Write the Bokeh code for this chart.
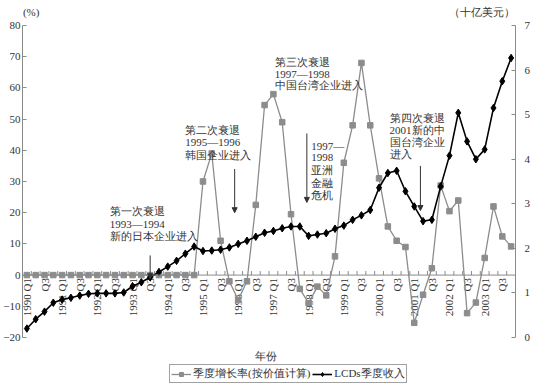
import numpy as np
from bokeh.plotting import figure
from bokeh.models import (Range1d, LinearAxis, FixedTicker, Arrow, NormalHead,
                          Legend, LegendItem, Label, Span)
from bokeh.embed import file_html
from bokeh.resources import INLINE
from bokeh.core.properties import value

# ---------------- data ----------------
YEARS = list(range(1990, 2004))
QUARTERS = [f"{y} Q{q}" for y in YEARS for q in (1, 2, 3, 4)]

# quarterly growth rate (%), left axis
growth = [0, 0, 0, 0, 0, 0, 0, 0, 0, 0,
          0, 0, 0, 0, 0, 0, 0, 0, 0, 0,
          30, 39, 11, -2, -8, -2, 22.5, 54.5, 58, 49,
          19.5, -4.4, -9, -3.7, -6.5, 6, 36, 48, 68, 48,
          31, 15.6, 11, 9, -15.3, -6.3, 2.2, 28.7, 20.5, 23.9,
          -12.2, -8.8, 5.5, 22, 12.4, 9.2]

# LCDs quarterly revenue (billion USD), right axis
revenue = [0.20, 0.41, 0.58, 0.78, 0.85, 0.89, 0.94, 0.98, 0.99, 0.99,
           0.99, 1.01, 1.15, 1.24, 1.35, 1.47, 1.59, 1.72, 1.88, 2.04,
           1.94, 1.95, 1.97, 2.02, 2.10, 2.17, 2.26, 2.35, 2.39, 2.45,
           2.49, 2.49, 2.28, 2.31, 2.34, 2.44, 2.51, 2.64, 2.74, 2.86,
           3.36, 3.69, 3.74, 3.28, 2.94, 2.61, 2.64, 3.39, 4.08, 5.04,
           4.40, 4.00, 4.22, 5.15, 5.75, 6.27]

left_ticks = [-20, -10, 0, 10, 20, 30, 40, 50, 60, 70, 80]
right_ticks = [0, 1, 2, 3, 4, 5, 6, 7]

x = list(range(len(QUARTERS)))
label_idx = [i for i, q in enumerate(QUARTERS) if q.endswith("Q1") or q.endswith("Q3")]
label_txt = [QUARTERS[i] if QUARTERS[i].endswith("Q1") else "Q3" for i in label_idx]
bounds = [i - 0.5 for i in range(len(x) + 1)]

FONT = "Liberation Serif"
AX = "#8a8a8a"
TXT = "#333333"

# frame spans the full height; axes are bounded to the value ranges
Y_TOP, Y_BOT = 88.01, -36.67
p = figure(width=550, height=389, x_range=Range1d(-0.5, len(x) - 0.5),
           y_range=Range1d(Y_BOT, Y_TOP), output_backend="svg", toolbar_location=None,
           x_axis_location=None, y_axis_location=None,
           min_border_top=0, min_border_right=35, min_border_left=17, min_border_bottom=0)
p.extra_y_ranges = {"rev": Range1d((Y_BOT + 20) * 0.07, (Y_TOP + 20) * 0.07)}
p.outline_line_color = None
p.xgrid.visible = False
p.ygrid.visible = False

def style_y(ax):
    ax.axis_line_color = AX
    ax.major_tick_line_color = AX
    ax.major_tick_in = 4
    ax.major_tick_out = 0
    ax.minor_tick_line_color = None
    ax.major_label_text_font = FONT
    ax.major_label_text_font_size = "11px"
    ax.major_label_text_color = TXT
    ax.major_label_standoff = 2

yl = LinearAxis(ticker=FixedTicker(ticks=left_ticks), bounds=(-20, 80))
style_y(yl)
p.add_layout(yl, "left")

yr = LinearAxis(y_range_name="rev", ticker=FixedTicker(ticks=right_ticks), bounds=(0, 7))
style_y(yr)
yr.major_label_standoff = 9
p.add_layout(yr, "right")

# category axis drawn along y = 0
p.add_layout(Span(location=0, dimension="width", line_color=AX, line_width=1))
p.segment(x0=bounds, y0=[0] * len(bounds), x1=bounds, y1=[1.3] * len(bounds),
          line_color=AX, line_width=1)
p.text(x=label_idx, y=[0] * len(label_idx), text=label_txt, angle=np.pi / 2,
       text_align="right", text_baseline="middle", y_offset=3,
       text_font=value(FONT), text_font_size="11px", text_color=TXT)

# series
g_line = p.line(x, growth, line_color="#8c8c8c", line_width=1.3)
g_pts = p.scatter(x, growth, marker="square", size=5.5, fill_color="#8c8c8c", line_color="#8c8c8c")
b_line = p.line(x, revenue, y_range_name="rev", line_color="black", line_width=1.6)
b_pts = p.scatter(x, revenue, y_range_name="rev", marker="diamond", size=7.5,
                  fill_color="black", line_color="black")

# annotations
ann_x = [9.4, 9.4, 9.4,
         18.0, 18.0, 18.0,
         28.15, 28.15, 28.15,
         32.3, 32.3, 32.3, 32.3, 32.3,
         41.2, 41.2, 41.2, 41.2]
ann_y = [20.5, 16.4, 12.5,
         46.6, 42.6, 38.6,
         68.2, 64.5, 60.8,
         41.5, 37.6, 33.6, 29.6, 25.6,
         50.3, 46.4, 42.6, 38.8]
ann_text = ["第一次衰退", "1993—1994", "新的日本企业进入",
            "第二次衰退", "1995—1996", "韩国企业进入",
            "第三次衰退", "1997—1998", "中国台湾企业进入",
            "1997—", "1998", "亚洲", "金融", "危机",
            "第四次衰退", "2001新的中", "国台湾企业", "进入"]
p.text(ann_x, ann_y, text=ann_text, text_font=value(FONT), text_font_size="11px",
       text_color=TXT, text_baseline="middle", text_align="left")

arrows = [(14.0, 6.3, 14.0, -1.2),
          (23.6, 34.0, 23.6, 20.0),
          (31.8, 45.4, 31.8, 23.3),
          (44.7, 35.0, 44.7, 20.7)]
for (x0, y0, x1, y1) in arrows:
    p.add_layout(Arrow(end=NormalHead(size=5, line_color=TXT, fill_color=TXT),
                       x_start=x0, y_start=y0, x_end=x1, y_end=y1,
                       line_color=TXT, line_width=1))

p.add_layout(Label(x=-0.45, y=84.2, text="(%)", text_font=FONT, text_font_size="11px",
                   text_color=TXT, text_baseline="middle", text_align="left"))
p.add_layout(Label(x=55.45, y=84.2, text="（十亿美元）", text_font=FONT, text_font_size="11px",
                   text_color=TXT, text_baseline="middle", text_align="right"))
p.add_layout(Label(x=27.16, y=-25.8, text="年份", text_font=FONT, text_font_size="11px",
                   text_color=TXT, text_baseline="middle", text_align="center"))

leg = Legend(items=[LegendItem(label="季度增长率(按价值计算)", renderers=[g_line, g_pts]),
                    LegendItem(label="LCDs季度收入", renderers=[b_line, b_pts])],
             orientation="horizontal", location=(147, 6))
leg.border_line_color = "#444444"
leg.border_line_width = 1
leg.padding = 1
leg.spacing = 2
leg.margin = 0
leg.glyph_width = 20
leg.glyph_height = 10
leg.label_height = 10
leg.label_standoff = 2
leg.label_text_font = FONT
leg.label_text_font_size = "11px"
leg.label_text_color = TXT
leg.background_fill_alpha = 0
p.add_layout(leg, "center")

open("out.html", "w").write(file_html(p, INLINE))
